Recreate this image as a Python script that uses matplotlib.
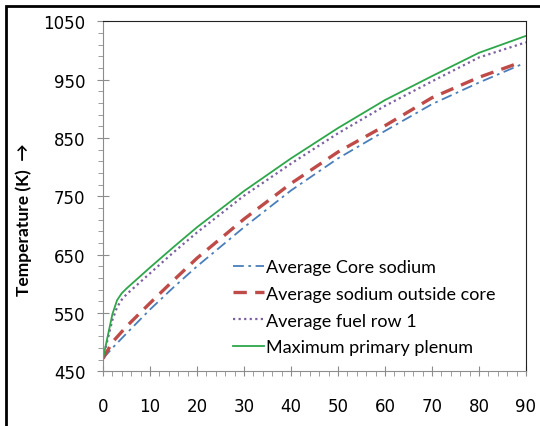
import matplotlib.pyplot as plt
from matplotlib.patches import Rectangle
from matplotlib.ticker import MultipleLocator, FixedLocator

# time values (x) and temperatures (K)
x_core = [0, 2, 5, 10, 15, 20, 30, 40, 50, 60, 70, 80, 89]
t_core = [472, 490, 515, 556, 594, 630, 697, 760, 815, 862, 908, 945, 976]

x_out = [0, 2, 5, 10, 15, 20, 30, 40, 50, 60, 70, 80, 89]
t_out = [472, 500, 527, 567, 606, 644, 711, 772, 826, 871, 919, 954, 980]

x_fuel = [0, 1, 2, 3, 4, 5, 10, 15, 20, 30, 40, 50, 60, 70, 80, 90]
t_fuel = [472, 505, 538, 560, 573, 582, 618, 654, 688, 751, 806, 858, 905, 947, 988, 1014]

x_plen = [0, 1, 2, 3, 4, 5, 10, 15, 20, 30, 40, 50, 60, 70, 80, 90]
t_plen = [472, 510, 548, 572, 584, 592, 628, 663, 697, 759, 815, 867, 915, 956, 996, 1025]

labels = ["Average Core sodium", "Average sodium outside core",
          "Average fuel row 1", "Maximum primary plenum"]

y_ticks = [450, 550, 650, 750, 850, 950, 1050]

fig = plt.figure(figsize=(5.4, 4.27), dpi=100)
ax = fig.add_axes([0.1907, 0.1279, 0.7833, 0.8199])

ax.plot(x_core, t_core, color="#4A7EBB", lw=1.3, dashes=(6, 2.5, 1.5, 2.5), label=labels[0])
ax.plot(x_out, t_out, color="#BE4B48", lw=2.4, dashes=(4, 2.5), label=labels[1])
ax.plot(x_fuel, t_fuel, color="#7D60A0", lw=1.6, dashes=(1, 1.5), label=labels[2])
ax.plot(x_plen, t_plen, color="#2EA64A", lw=1.3, label=labels[3])

ax.set_xlim(0, 90)
ax.set_ylim(450, 1050)
ax.xaxis.set_major_locator(MultipleLocator(10))
ax.xaxis.set_minor_locator(MultipleLocator(2))
ax.yaxis.set_major_locator(FixedLocator(y_ticks))
ax.yaxis.set_minor_locator(FixedLocator(list(range(450, 1051, 20))))

for s in ["left", "bottom"]:
    ax.spines[s].set_color("#8c8c8c")
for s in ["top", "right"]:
    ax.spines[s].set_color("#222222")
ax.tick_params(axis="y", which="major", direction="inout", length=8, color="#8c8c8c",
               labelsize=12, pad=8.5)
ax.tick_params(axis="y", which="minor", direction="out", length=3.5, color="#8c8c8c")
ax.tick_params(axis="x", which="major", direction="inout", length=7.5, color="#8c8c8c",
               labelsize=12, pad=15)
ax.tick_params(axis="x", which="minor", direction="out", length=3.5, color="#8c8c8c")

ax.set_ylabel("Temperature (K)  \u2192", fontsize=12.5, fontweight="bold",
              family=["Lato", "DejaVu Sans"])
ax.yaxis.set_label_coords(-0.168, 0.435)

leg = ax.legend(loc="lower left", bbox_to_anchor=(0.29, 0.025), frameon=False,
                prop={"family": "Lato", "size": 13}, handlelength=1.75,
                handletextpad=0.1, labelspacing=0.6, borderaxespad=0.0)

# outer frame of the picture
fig.add_artist(Rectangle((6 / 540, -0.1), 1.2, 1.1 - 7 / 427, transform=fig.transFigure,
                         fill=False, edgecolor="black", lw=2, clip_on=False))

fig.savefig("out.png", dpi=100)
